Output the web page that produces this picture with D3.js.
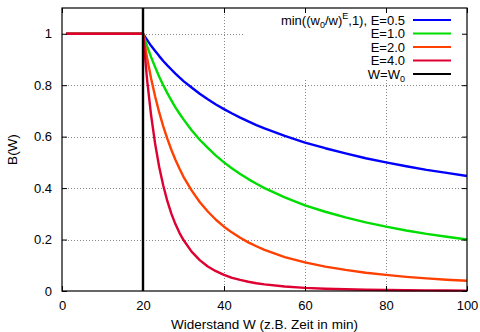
<!DOCTYPE html>
<html><head><meta charset="utf-8">
<script src="https://cdn.jsdelivr.net/npm/d3@7"></script>
<style>
html,body{margin:0;padding:0;background:#fff;}
svg{display:block;font-family:"Liberation Sans",Arial,Helvetica,sans-serif;}
</style></head>
<body>
<svg id="chart" width="480" height="332"></svg>
<script>
// Sample positions W
const wValues = [1,20,21,22,23,24,25,26,27,28,29,30,32,34,36,38,40,42,44,46,48,50,55,60,65,70,75,80,85,90,95,100];
// B(W) for each exponent E
const bE05 = [1,1,0.976,0.953,0.933,0.913,0.894,0.877,0.861,0.845,0.830,0.816,0.791,0.767,0.745,0.725,0.707,0.690,0.674,0.659,0.645,0.632,0.603,0.577,0.555,0.535,0.516,0.500,0.485,0.471,0.459,0.447];
const bE10 = [1,1,0.952,0.909,0.870,0.833,0.800,0.769,0.741,0.714,0.690,0.667,0.625,0.588,0.556,0.526,0.500,0.476,0.455,0.435,0.417,0.400,0.364,0.333,0.308,0.286,0.267,0.250,0.235,0.222,0.211,0.200];
const bE20 = [1,1,0.907,0.826,0.756,0.694,0.640,0.592,0.549,0.510,0.476,0.444,0.391,0.346,0.309,0.277,0.250,0.227,0.207,0.189,0.174,0.160,0.132,0.111,0.095,0.082,0.071,0.0625,0.055,0.049,0.044,0.040];
const bE40 = [1,1,0.823,0.683,0.572,0.482,0.410,0.350,0.301,0.260,0.226,0.198,0.153,0.120,0.095,0.077,0.0625,0.051,0.043,0.036,0.030,0.0256,0.0175,0.0123,0.0090,0.0067,0.0051,0.0039,0.0031,0.0024,0.0019,0.0016];
const seriesNames = ["E=0.5","E=1.0","E=2.0","E=4.0"];
const seriesColors = ["#0000ff","#00dd00","#ff4000","#dd0030"];
const w0 = 20;
const xTicks = [0,20,40,60,80,100];
const yTicks = [0,0.2,0.4,0.6,0.8,1];
const xDomain = [0,100];
const yDomain = [0,1.1];
const xTitle = "Widerstand W (z.B. Zeit in min)";
const yTitle = "B(W)";

const series = [bE05,bE10,bE20,bE40].map((vals,i)=>({name:seriesNames[i],color:seriesColors[i],pts:wValues.map((w,j)=>[w,vals[j]])}));

const svg = d3.select("#chart");
const L=62,R=467,T=8,B=291;
const x = d3.scaleLinear().domain(xDomain).range([L,R]);
const y = d3.scaleLinear().domain(yDomain).range([B,T]);
const fs = 13;

// grid
const grid = svg.append("g").attr("stroke","#888").attr("stroke-width",1).attr("stroke-dasharray","1,2").attr("shape-rendering","crispEdges");
xTicks.filter(t=>t>xDomain[0]&&t<xDomain[1]).forEach(t=>{
  grid.append("line").attr("x1",Math.round(x(t))+0.5).attr("x2",Math.round(x(t))+0.5).attr("y1",B).attr("y2",T);
});
yTicks.filter(t=>t>yDomain[0]).forEach(t=>{
  grid.append("line").attr("x1",L).attr("x2",R).attr("y1",Math.round(y(t))+0.5).attr("y2",Math.round(y(t))+0.5);
});

// legend background box
const keyBox = {x0:243,y0:T+1,x1:R-1,y1:80};
svg.append("rect").attr("x",keyBox.x0).attr("y",keyBox.y0).attr("width",keyBox.x1-keyBox.x0).attr("height",keyBox.y1-keyBox.y0).attr("fill","#fff");

// curves
const line = d3.line().x(d=>x(d[0])).y(d=>y(d[1]));
const plot = svg.append("g");
series.forEach(s=>{
  plot.append("path").attr("d",line(s.pts)).attr("fill","none").attr("stroke",s.color).attr("stroke-width",2.4).attr("stroke-linejoin","round");
});
// W = W0 line
plot.append("line").attr("x1",x(w0)).attr("x2",x(w0)).attr("y1",y(yDomain[0])).attr("y2",y(yDomain[1])).attr("stroke","#000").attr("stroke-width",2.4);

// axes (ticks inward, mirrored)
const axB = d3.axisBottom(x).tickValues(xTicks).tickSizeInner(-5).tickSizeOuter(0).tickPadding(10).tickFormat(d3.format("d"));
const axT = d3.axisTop(x).tickValues(xTicks).tickSizeInner(-5).tickSizeOuter(0).tickFormat("");
const axL = d3.axisLeft(y).tickValues(yTicks).tickSizeInner(-5).tickSizeOuter(0).tickPadding(10).tickFormat(d=>d===0||d===1?d3.format("d")(d):d3.format(".1f")(d));
const axR = d3.axisRight(y).tickValues(yTicks).tickSizeInner(-5).tickSizeOuter(0).tickFormat("");
function styleAxis(g){
  g.select(".domain").remove();
  g.selectAll(".tick line").attr("stroke","#000").attr("stroke-width",1);
  g.selectAll("text").attr("font-size",fs).attr("font-family","Liberation Sans, Arial, sans-serif").attr("fill","#000");
}
svg.append("g").attr("transform",`translate(0,${B})`).call(axB).call(styleAxis);
svg.append("g").attr("transform",`translate(0,${T})`).call(axT).call(styleAxis);
svg.append("g").attr("transform",`translate(${L},0)`).call(axL).call(styleAxis);
svg.append("g").attr("transform",`translate(${R},0)`).call(axR).call(styleAxis);

// frame
svg.append("rect").attr("x",L).attr("y",T).attr("width",R-L).attr("height",B-T).attr("fill","none").attr("stroke","#000").attr("stroke-width",1.2);

// axis titles
svg.append("text").attr("x",(L+R)/2).attr("y",329).attr("text-anchor","middle").attr("font-size",13.5).text(xTitle);
svg.append("text").attr("transform",`translate(17,${(T+B)/2}) rotate(-90)`).attr("text-anchor","middle").attr("font-size",13.5).text(yTitle);

// legend
const keyTextX = 405, keyL0 = 413, keyL1 = 451;
const rowY = i => 20 + i*13.5;
const key = svg.append("g").attr("font-size",fs);
series.forEach((s,i)=>{
  const t = key.append("text").attr("x",keyTextX).attr("y",rowY(i)+4.5).attr("text-anchor","end");
  if(i===0){
    t.append("tspan").text("min((w");
    t.append("tspan").attr("font-size",9).attr("dy",3).text("0");
    t.append("tspan").attr("dy",-3).text("/w)");
    t.append("tspan").attr("font-size",9).attr("dy",-6).text("E");
    t.append("tspan").attr("dy",6).text(",1), " + s.name);
  } else {
    t.text(s.name);
  }
  key.append("line").attr("x1",keyL0).attr("x2",keyL1).attr("y1",rowY(i)).attr("y2",rowY(i)).attr("stroke",s.color).attr("stroke-width",2);
});
const tw = key.append("text").attr("x",keyTextX).attr("y",rowY(4)+4.5).attr("text-anchor","end");
tw.append("tspan").text("W=W");
tw.append("tspan").attr("font-size",9).attr("dy",3).text("0");
key.append("line").attr("x1",keyL0).attr("x2",keyL1).attr("y1",rowY(4)).attr("y2",rowY(4)).attr("stroke","#000").attr("stroke-width",2);
</script>
</body></html>
